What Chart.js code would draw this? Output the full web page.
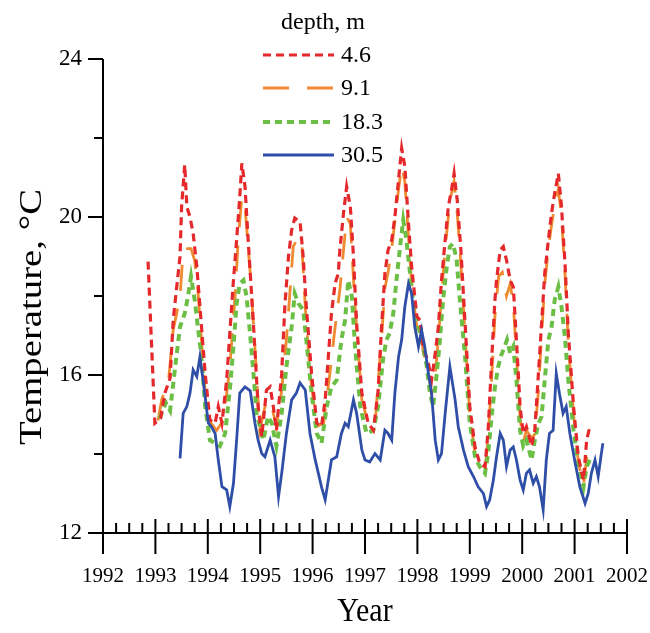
<!DOCTYPE html>
<html>
<head>
<meta charset="utf-8">
<script src="https://cdn.jsdelivr.net/npm/chart.js@4.4.1/dist/chart.umd.min.js"></script>
<style>
html,body{margin:0;padding:0;background:#fff;}
canvas{display:block;}
</style>
</head>
<body>
<canvas id="c" width="650" height="633"></canvas>
<script>
// ---- data (decimal year, temperature °C) ----
const depthLabels = ['4.6', '9.1', '18.3', '30.5'];
const xTickYears = [1992,1993,1994,1995,1996,1997,1998,1999,2000,2001,2002];
const yTickLabels = [12,16,20,24];

const yrs46 = [1992.86,1992.99,1993.10,1993.18,1993.28,1993.34,1993.40,1993.47,1993.50,1993.56,1993.60,1993.66,1993.72,1993.79,1993.85,1993.95,1994.04,1994.14,1994.20,1994.27,1994.36,1994.42,1994.49,1994.55,1994.61,1994.65,1994.71,1994.77,1994.87,1994.96,1995.03,1995.12,1995.19,1995.25,1995.31,1995.41,1995.47,1995.54,1995.60,1995.66,1995.76,1995.82,1995.88,1995.98,1996.08,1996.17,1996.24,1996.30,1996.36,1996.43,1996.49,1996.52,1996.59,1996.65,1996.72,1996.78,1996.84,1996.94,1997.06,1997.16,1997.25,1997.32,1997.38,1997.44,1997.51,1997.57,1997.64,1997.70,1997.76,1997.83,1997.89,1997.99,1998.05,1998.11,1998.21,1998.27,1998.34,1998.40,1998.46,1998.53,1998.59,1998.65,1998.70,1998.76,1998.83,1998.91,1999.00,1999.10,1999.19,1999.29,1999.35,1999.42,1999.48,1999.51,1999.58,1999.64,1999.70,1999.77,1999.83,1999.89,1999.96,2000.02,2000.08,2000.18,2000.24,2000.31,2000.37,2000.43,2000.50,2000.56,2000.62,2000.69,2000.75,2000.82,2000.88,2000.98,2001.07,2001.17,2001.23,2001.29];
const tmp46 = [18.87,14.78,14.90,15.54,15.92,17.39,18.15,19.00,20.26,21.32,20.26,20.00,19.59,18.74,17.73,16.04,14.86,14.78,15.20,14.78,15.87,17.06,18.40,19.42,20.51,21.36,20.77,19.42,17.31,15.20,14.44,15.62,15.70,15.20,14.60,16.04,17.73,19.00,19.67,19.97,19.88,19.00,17.73,16.04,14.78,14.70,15.37,16.46,17.56,18.32,18.57,19.16,20.10,20.77,20.26,19.00,17.31,15.54,14.78,14.60,15.60,17.31,18.57,19.16,19.42,20.00,20.94,21.74,21.28,19.84,18.74,17.48,17.39,16.72,16.30,15.87,16.55,17.22,18.40,19.42,20.26,20.68,21.10,20.43,19.16,17.31,15.20,14.18,13.76,13.68,14.60,16.46,17.90,18.40,19.16,19.25,18.91,18.40,18.23,16.89,15.20,14.52,14.69,14.20,14.60,16.04,17.31,18.57,19.42,20.10,20.60,21.10,20.26,18.74,17.06,15.20,13.93,13.34,14.35,14.69];

const yrs91 = [1993.05,1993.12,1993.25,1993.34,1993.47,1993.53,1993.61,1993.68,1993.75,1993.81,1993.88,1993.97,1994.06,1994.17,1994.30,1994.42,1994.52,1994.58,1994.65,1994.71,1994.81,1994.93,1994.99,1995.12,1995.22,1995.31,1995.41,1995.50,1995.57,1995.63,1995.73,1995.79,1995.86,1995.95,1996.08,1996.21,1996.33,1996.43,1996.52,1996.59,1996.65,1996.72,1996.81,1996.94,1997.06,1997.19,1997.25,1997.32,1997.38,1997.44,1997.51,1997.57,1997.64,1997.70,1997.76,1997.83,1997.89,1997.99,1998.05,1998.11,1998.21,1998.27,1998.34,1998.40,1998.46,1998.53,1998.59,1998.65,1998.70,1998.76,1998.83,1998.91,1999.00,1999.10,1999.19,1999.29,1999.35,1999.42,1999.48,1999.55,1999.62,1999.70,1999.77,1999.83,1999.89,1999.96,2000.02,2000.08,2000.18,2000.24,2000.31,2000.37,2000.43,2000.50,2000.56,2000.62,2000.69,2000.75,2000.82,2000.88,2000.98,2001.07,2001.17,2001.23,2001.29];
const tmp91 = [14.85,15.37,15.85,17.14,17.98,19.16,19.20,19.20,18.90,18.15,16.88,15.20,14.78,14.60,14.86,16.20,17.98,19.42,20.50,20.26,18.57,16.04,14.60,15.37,15.20,14.70,15.62,16.89,18.15,19.25,19.50,19.42,17.73,16.04,14.70,14.78,16.04,17.22,18.15,19.16,20.00,19.83,17.73,15.37,14.78,14.70,15.80,17.00,18.20,18.60,19.20,19.90,20.70,21.30,20.90,19.50,18.30,17.20,17.40,16.60,16.10,15.50,16.00,16.90,18.00,19.20,20.00,20.60,20.90,20.10,18.80,17.00,15.00,14.00,13.70,13.60,14.40,16.00,17.50,18.50,18.60,18.00,18.30,17.80,16.50,14.90,14.30,14.60,14.40,14.50,15.60,17.00,18.30,19.20,19.80,20.30,20.70,20.00,18.50,16.80,15.00,13.80,13.20,13.90,14.20];

const yrs183 = [1993.08,1993.20,1993.28,1993.40,1993.47,1993.56,1993.62,1993.68,1993.75,1993.81,1993.88,1993.95,1994.04,1994.14,1994.23,1994.33,1994.42,1994.49,1994.55,1994.61,1994.68,1994.74,1994.81,1994.88,1994.93,1995.06,1995.15,1995.22,1995.31,1995.41,1995.50,1995.60,1995.66,1995.73,1995.82,1995.88,1995.98,1996.08,1996.17,1996.27,1996.36,1996.46,1996.55,1996.62,1996.68,1996.75,1996.81,1996.91,1997.03,1997.16,1997.25,1997.35,1997.41,1997.47,1997.54,1997.60,1997.67,1997.73,1997.79,1997.86,1997.92,1998.02,1998.08,1998.18,1998.24,1998.30,1998.37,1998.43,1998.49,1998.56,1998.62,1998.68,1998.75,1998.81,1998.91,1999.00,1999.10,1999.19,1999.29,1999.35,1999.42,1999.48,1999.54,1999.60,1999.66,1999.71,1999.77,1999.83,1999.89,1999.96,2000.02,2000.08,2000.18,2000.24,2000.31,2000.37,2000.43,2000.50,2000.56,2000.62,2000.69,2000.75,2000.82,2000.88,2000.98,2001.07,2001.17,2001.23,2001.29];
const tmp183 = [14.90,15.30,15.10,16.46,17.22,17.56,17.98,18.49,17.90,17.22,16.46,15.20,14.35,14.27,14.20,14.52,15.62,16.72,17.81,18.32,18.40,17.98,17.00,15.90,15.03,14.35,14.95,14.78,14.20,15.03,16.21,17.22,18.06,17.81,17.65,16.89,15.54,14.52,14.27,15.20,15.70,15.87,16.89,17.39,18.40,17.98,16.72,15.20,14.52,14.60,15.20,16.46,16.89,17.06,17.56,18.40,19.25,19.92,19.42,18.57,17.90,17.22,16.89,16.21,15.54,15.20,16.04,16.89,17.90,18.74,19.25,19.33,18.91,17.90,16.46,14.78,13.93,13.68,13.51,14.01,15.00,15.70,16.20,16.50,16.70,16.89,16.55,16.72,15.87,14.60,14.20,14.35,13.85,14.35,14.78,14.95,15.87,16.89,17.22,17.90,18.23,17.73,16.89,15.87,14.60,13.76,13.17,13.68,13.85];

const yrs305 = [1993.47,1993.53,1993.60,1993.66,1993.72,1993.79,1993.85,1993.91,1994.01,1994.07,1994.14,1994.20,1994.27,1994.36,1994.42,1994.49,1994.55,1994.61,1994.71,1994.81,1994.90,1994.96,1995.03,1995.09,1995.19,1995.28,1995.35,1995.41,1995.50,1995.60,1995.69,1995.76,1995.86,1995.95,1996.05,1996.11,1996.17,1996.24,1996.30,1996.36,1996.46,1996.55,1996.62,1996.68,1996.78,1996.84,1996.94,1997.00,1997.09,1997.19,1997.29,1997.38,1997.44,1997.51,1997.57,1997.64,1997.70,1997.76,1997.83,1997.89,1997.95,1998.02,1998.08,1998.14,1998.21,1998.27,1998.34,1998.40,1998.46,1998.53,1998.62,1998.72,1998.78,1998.88,1998.97,1999.07,1999.16,1999.26,1999.32,1999.38,1999.45,1999.51,1999.58,1999.64,1999.70,1999.77,1999.83,1999.89,1999.96,2000.02,2000.08,2000.14,2000.21,2000.27,2000.33,2000.40,2000.46,2000.52,2000.59,2000.65,2000.71,2000.78,2000.84,2000.91,2001.00,2001.10,2001.20,2001.26,2001.32,2001.39,2001.45,2001.51,2001.54];
const tmp305 = [13.89,15.03,15.20,15.54,16.13,15.96,16.46,15.87,14.78,14.69,14.52,13.85,13.17,13.09,12.67,13.26,14.35,15.54,15.70,15.60,14.78,14.35,14.01,13.93,14.35,13.93,12.92,13.51,14.52,15.37,15.54,15.80,15.62,14.52,13.85,13.51,13.17,12.84,13.34,13.85,13.93,14.52,14.78,14.69,15.37,15.03,14.10,13.85,13.80,14.01,13.85,14.60,14.52,14.35,15.54,16.46,16.89,17.73,18.32,18.06,17.22,16.72,17.14,16.72,16.04,15.54,14.35,13.85,14.01,15.03,16.21,15.37,14.69,14.10,13.68,13.43,13.17,13.00,12.67,12.84,13.34,13.93,14.52,14.35,13.68,14.10,14.18,13.85,13.34,13.09,13.51,13.60,13.26,13.43,13.17,12.59,13.85,14.52,14.60,16.04,15.54,15.03,15.20,14.52,13.85,13.17,12.75,13.00,13.51,13.85,13.43,14.01,14.27];

const seriesColors = ['#e4282b', '#ef8a31', '#6cbf45', '#2e4ea7'];
const seriesDash = [[8,5], [26,18], [7,5], []];
const seriesWidth = [3.2, 2.8, 4, 2.8];

function pts(xs, ys){ return xs.map((x,i)=>({x:x, y:ys[i]})); }
const allX = [yrs46, yrs91, yrs183, yrs305];
const allY = [tmp46, tmp91, tmp183, tmp305];
const drawOrder = [1, 3, 2, 0];

const SERIF = '"Liberation Serif", "DejaVu Serif", "Times New Roman", serif';

const decor = {
  id: 'decor',
  afterDraw(chart){
    const ctx = chart.ctx;
    const xs = chart.scales.x, ys = chart.scales.y;
    const ax = xs.getPixelForValue(1992);
    const ay = ys.getPixelForValue(12);
    const ytop = ys.getPixelForValue(24);
    const xr = xs.getPixelForValue(2002);
    ctx.save();
    ctx.strokeStyle = '#000';
    ctx.lineWidth = 2;
    ctx.lineCap = 'butt';
    ctx.beginPath();
    ctx.moveTo(ax, ytop); ctx.lineTo(ax, ay);
    ctx.moveTo(ax, ay); ctx.lineTo(xr, ay);
    for (let v = 12; v <= 24; v += 2) {
      const p = Math.round(ys.getPixelForValue(v));
      const len = (v % 4 === 0) ? 15 : 9;
      ctx.moveTo(ax - len, p); ctx.lineTo(ax, p);
    }
    for (let yr = 1992; yr <= 2002; yr++) {
      const p = xs.getPixelForValue(yr);
      ctx.moveTo(p, ay - 14); ctx.lineTo(p, ay + 21);
      if (yr < 2002) {
        for (let q = 1; q < 4; q++) {
          const pq = xs.getPixelForValue(yr + q / 4);
          ctx.moveTo(pq, ay - 10); ctx.lineTo(pq, ay);
        }
      }
    }
    ctx.stroke();

    // axis titles
    ctx.fillStyle = '#000';
    ctx.textAlign = 'center';
    ctx.textBaseline = 'middle';
    ctx.save();
    ctx.translate((ax + xr) / 2, 612);
    ctx.scale(1, 1.15);
    ctx.font = '30px ' + SERIF;
    ctx.fillText('Year', 0, 0);
    ctx.restore();
    ctx.save();
    ctx.translate(33, 317);
    ctx.rotate(-Math.PI / 2);
    ctx.scale(1.25, 1);
    ctx.font = '31px ' + SERIF;
    ctx.fillText('Temperature, \u00B0C', 0, 0);
    ctx.restore();

    // legend
    ctx.font = '24px ' + SERIF;
    ctx.textAlign = 'center';
    ctx.fillText('depth, m', 323, 23);
    ctx.textAlign = 'left';
    const rows = [55, 88, 122, 155];
    chart.data.datasets.forEach((ds, i) => {
      const yy = rows[i];
      ctx.save();
      ctx.strokeStyle = ds.borderColor;
      ctx.lineWidth = ds.borderWidth;
      ctx.setLineDash(ds.borderDash || []);
      ctx.beginPath();
      ctx.moveTo(263, yy); ctx.lineTo(334, yy);
      ctx.stroke();
      ctx.restore();
      ctx.fillText(ds.label, 341, yy + 1);
    });
    ctx.restore();
  }
};

new Chart(document.getElementById('c'), {
  type: 'line',
  data: {
    datasets: depthLabels.map((lab, i) => ({
      label: lab,
      data: pts(allX[i], allY[i]),
      borderColor: seriesColors[i],
      backgroundColor: seriesColors[i],
      borderWidth: seriesWidth[i],
      borderDash: seriesDash[i],
      pointRadius: 0,
      tension: 0,
      fill: false,
      order: drawOrder[i]
    }))
  },
  options: {
    responsive: false,
    animation: false,
    devicePixelRatio: 1,
    layout: { padding: { left: 0, right: 23, top: 59, bottom: 0 } },
    plugins: { legend: { display: false }, tooltip: { enabled: false } },
    scales: {
      x: {
        type: 'linear', min: 1992, max: 2002,
        grid: { display: false, drawTicks: false },
        border: { display: false },
        afterFit: s => { s.height = 100; s.paddingLeft = 0; s.paddingRight = 0; },
        afterBuildTicks: s => { s.ticks = xTickYears.map(v => ({ value: v })); },
        ticks: {
          autoSkip: false, maxRotation: 0, padding: 31,
          color: '#000', font: { family: SERIF, size: 21 },
          callback: v => String(v)
        }
      },
      y: {
        type: 'linear', min: 12, max: 24,
        grid: { display: false, drawTicks: false },
        border: { display: false },
        afterFit: s => { s.width = 103; s.paddingTop = 0; s.paddingBottom = 0; },
        afterBuildTicks: s => { s.ticks = yTickLabels.map(v => ({ value: v })); },
        ticks: {
          padding: 21, color: '#000', font: { family: SERIF, size: 23 },
          callback: v => String(v)
        }
      }
    }
  },
  plugins: [decor]
});
</script>
</body>
</html>
